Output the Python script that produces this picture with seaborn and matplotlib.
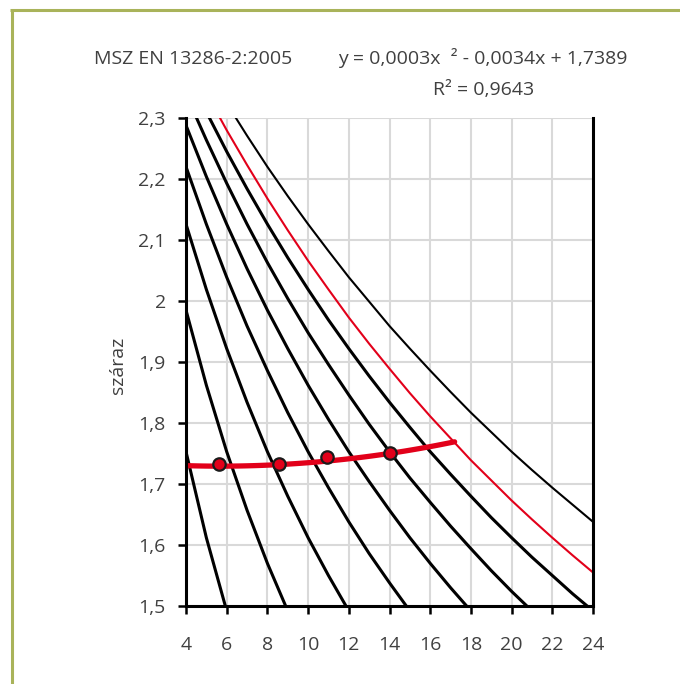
import numpy as np
import pandas as pd
import matplotlib
matplotlib.use("Agg")
import matplotlib.pyplot as plt
from matplotlib.lines import Line2D
import seaborn as sns

sns.set_theme(style="white")
plt.rcParams["font.family"] = ["Open Sans", "DejaVu Sans"]

# Saturation curves: dry density (y) against moisture content (x)
w_sr20 = [3, 4, 5, 6]
rho_sr20 = [1.922, 1.753, 1.612, 1.492]
w_sr30 = [3, 4, 5, 6, 7, 8, 9]
rho_sr30 = [2.126, 1.985, 1.862, 1.753, 1.657, 1.570, 1.492]
w_sr40 = [3, 4, 5, 6, 7, 8, 9, 10, 11, 12]
rho_sr40 = [2.245, 2.126, 2.019, 1.922, 1.834, 1.753, 1.680, 1.612, 1.550, 1.492]
w_sr50 = list(range(3, 16))
rho_sr50 = [2.324, 2.220, 2.126, 2.039, 1.959, 1.886, 1.817, 1.753, 1.694,
            1.638, 1.586, 1.538, 1.492]
w_sr60 = list(range(3, 19))
rho_sr60 = [2.379, 2.288, 2.204, 2.126, 2.053, 1.985, 1.922, 1.862, 1.806,
            1.753, 1.704, 1.657, 1.612, 1.570, 1.530, 1.492]
w_sr70 = list(range(4, 22))
rho_sr70 = [2.339, 2.264, 2.193, 2.126, 2.063, 2.004, 1.948, 1.896, 1.846,
            1.798, 1.753, 1.710, 1.670, 1.631, 1.594, 1.558, 1.524, 1.492]
w_sr80 = list(range(5, 25))
rho_sr80 = [2.310, 2.245, 2.184, 2.126, 2.071, 2.019, 1.969, 1.922, 1.877,
            1.834, 1.793, 1.753, 1.716, 1.680, 1.645, 1.612, 1.580, 1.550,
            1.520, 1.492]
w_sr88 = list(range(5, 25))
rho_sr88 = [2.341, 2.280, 2.223, 2.168, 2.116, 2.066, 2.019, 1.973, 1.930,
            1.889, 1.849, 1.811, 1.775, 1.739, 1.706, 1.673, 1.642, 1.612,
            1.583, 1.555]
w_sr100 = list(range(6, 25))
rho_sr100 = [2.324, 2.271, 2.220, 2.172, 2.126, 2.082, 2.039, 1.999, 1.959,
             1.922, 1.886, 1.851, 1.817, 1.785, 1.753, 1.723, 1.694, 1.666,
             1.638]

# Proctor test points and their quadratic trend
test_w = [5.62, 8.57, 10.91, 14.01]
test_rho = [1.732, 1.732, 1.744, 1.7515]
trend_coef = [0.0003, -0.0034, 1.7389]
trend_range = [4.0, 17.2]

x_ticks = [4, 6, 8, 10, 12, 14, 16, 18, 20, 22, 24]
y_ticks = [1.5, 1.6, 1.7, 1.8, 1.9, 2.0, 2.1, 2.2, 2.3]
y_tick_labels = ["1,5", "1,6", "1,7", "1,8", "1,9", "2", "2,1", "2,2", "2,3"]

title_left = "MSZ EN 13286-2:2005"
title_eq = "y = 0,0003x  \u00b2 - 0,0034x + 1,7389"
title_r2 = "R\u00b2 = 0,9643"
y_label = "száraz"

BLACK = "#000000"
RED = "#e2001a"
TXT = "#404040"
FS = 14

curves = [
    ("sr20", w_sr20, rho_sr20, BLACK, 2.2),
    ("sr30", w_sr30, rho_sr30, BLACK, 2.2),
    ("sr40", w_sr40, rho_sr40, BLACK, 2.2),
    ("sr50", w_sr50, rho_sr50, BLACK, 2.2),
    ("sr60", w_sr60, rho_sr60, BLACK, 2.2),
    ("sr70", w_sr70, rho_sr70, BLACK, 2.2),
    ("sr80", w_sr80, rho_sr80, BLACK, 2.2),
    ("sr88", w_sr88, rho_sr88, RED, 1.5),
    ("sr100", w_sr100, rho_sr100, BLACK, 1.5),
]

fig = plt.figure(figsize=(6.8, 6.84), dpi=100)
fig.patch.set_facecolor("white")
ax = fig.add_axes([186 / 680, 1 - 606 / 684, 407 / 680, 488 / 684])

for name, w, rho, col, lw in curves:
    df = pd.DataFrame({"w": w, "rho": rho})
    sns.lineplot(data=df, x="w", y="rho", ax=ax, color=col, linewidth=lw,
                 sort=False, estimator=None, zorder=3)

trend_x = np.linspace(trend_range[0], trend_range[1], 120)
trend_df = pd.DataFrame({"w": trend_x, "rho": np.polyval(trend_coef, trend_x)})
sns.lineplot(data=trend_df, x="w", y="rho", ax=ax, color=RED, linewidth=3.8,
             estimator=None, zorder=4)

pts = pd.DataFrame({"w": test_w, "rho": test_rho})
sns.scatterplot(data=pts, x="w", y="rho", ax=ax, color=RED, edgecolor="#1a1a1a",
                linewidth=1.6, s=80, zorder=5)

ax.set_xlim(4, 24)
ax.set_ylim(1.5, 2.3)
ax.set_xticks(x_ticks)
ax.set_yticks(y_ticks)
ax.set_yticklabels(y_tick_labels)
ax.set_xlabel("")
ax.set_ylabel("")
ax.grid(True, color="#d9d9d9", linewidth=1.5)
ax.set_axisbelow(True)

ax.spines["top"].set_visible(False)
for side in ["left", "bottom", "right"]:
    ax.spines[side].set_visible(True)
    ax.spines[side].set_color(BLACK)
    ax.spines[side].set_linewidth(2.2)
    ax.spines[side].set_zorder(6)

ax.tick_params(axis="both", which="major", direction="out", length=5.5,
               width=1.8, color=BLACK, labelsize=FS, labelcolor=TXT,
               bottom=True, left=True, right=False, top=False)
ax.tick_params(axis="y", pad=9)
ax.tick_params(axis="x", pad=16)

fig.text(118 / 680, 1 - 365 / 684, y_label, rotation=90, ha="center",
         va="center", fontsize=FS, color=TXT)

fig.text(94 / 680, 1 - 64 / 684, title_left, ha="left", va="baseline",
         fontsize=FS, color=TXT)
fig.text(338 / 680, 1 - 64 / 684, title_eq, ha="left", va="baseline",
         fontsize=FS, color=TXT)
fig.text(433 / 680, 1 - 95 / 684, title_r2, ha="left", va="baseline",
         fontsize=FS, color=TXT)

# olive frame along the top and left edge
frame_col = "#a9b35a"
fig.add_artist(Line2D([11.5 / 680, 11.5 / 680], [0, 1 - 10 / 684],
                      transform=fig.transFigure, color=frame_col, linewidth=2.2,
                      solid_capstyle="butt"))
fig.add_artist(Line2D([10.4 / 680, 1], [1 - 10 / 684, 1 - 10 / 684],
                      transform=fig.transFigure, color=frame_col, linewidth=2.2,
                      solid_capstyle="butt"))

fig.savefig("out.png", dpi=100, facecolor="white")
